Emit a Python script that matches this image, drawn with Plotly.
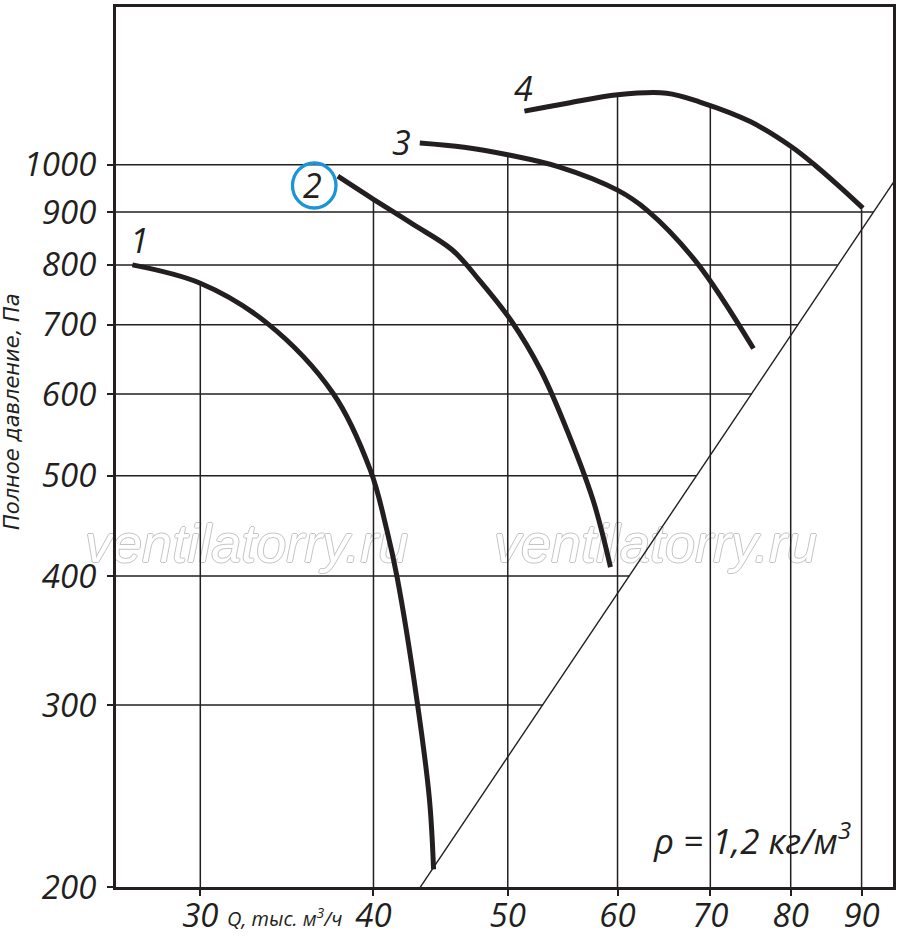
import plotly.graph_objects as go

# ---- data ----
Q1 = [26.8, 30.0, 33.5, 37.4, 39.8, 40.9, 41.6, 43.0, 43.9, 44.2]
P1 = [800, 768, 703, 601, 506, 443, 399, 303, 243, 208]
Q2 = [37.7, 40.0, 42.7, 45.6, 47.7, 50.3, 52.8, 54.8, 57.6, 59.3]
P2 = [975, 926, 876, 827, 773, 706, 633, 566, 474, 408]
Q3 = [43.2, 46.5, 50.1, 54.5, 60.0, 63.0, 68.4, 75.2]
P3 = [1050, 1040, 1022, 995, 945, 904, 805, 664]
Q4 = [51.4, 55.2, 60.0, 65.1, 68.8, 74.8, 80.1, 83.3, 86.8, 90.2]
P4 = [1127, 1147, 1169, 1173, 1150, 1101, 1041, 999, 952, 908]

# system (network) line
QS = [42.7, 95.5]
PS = [195, 974]

# tick values
x_ticks = [30, 40, 50, 60, 70, 80, 90]
x_tick_text = ["30", "40", "50", "60", "70", "80", "90"]
y_ticks = [200, 300, 400, 500, 600, 700, 800, 900, 1000]
y_tick_text = ["200", "300", "400", "500", "600", "700", "800", "900", "1000"]

# grid line extents
grid_q_top_p = [768, 926, 1020, 1166, 1136, 1035, 905]     # top end of vertical lines
grid_p = [300, 400, 500, 600, 700, 800, 900, 1000]
grid_p_end_q = [53.0, 61.2, 68.4, 75.0, 81.0, 86.5, 91.8, 83.3]  # right end of horizontal lines

X_RANGE = [1.4163, 1.9769]   # log10 of Q range
Y_RANGE = [2.30103, 3.1527]  # log10 of P range
Q_LEFT = 10 ** X_RANGE[0]
P_BOTTOM = 10 ** Y_RANGE[0]

INK = "#231f20"
FONT = "Open Sans"

fig = go.Figure()

# watermark (drawn first, under everything)
fig.add_trace(go.Scatter(
    x=[32.4, 63.9], y=[425, 425], mode="text", cliponaxis=False,
    text=["ventilatorry.ru", "ventilatorry.ru"],
    textfont=dict(family="Liberation Sans", size=54, style="italic", color="white",
                  shadow="1px 0 0 #c4c4c4, -1px 0 0 #c4c4c4, 0 1px 0 #c4c4c4, 0 -1px 0 #c4c4c4"),
    hoverinfo="skip", showlegend=False))

# vertical grid
vx, vy = [], []
for q, top in zip(x_ticks, grid_q_top_p):
    vx += [q, q, None]
    vy += [top, P_BOTTOM, None]
fig.add_trace(go.Scatter(x=vx, y=vy, mode="lines", line=dict(color=INK, width=1.5),
                         hoverinfo="skip", showlegend=False))

# horizontal grid
hx, hy = [], []
for p, qe in zip(grid_p, grid_p_end_q):
    hx += [Q_LEFT, qe, None]
    hy += [p, p, None]
fig.add_trace(go.Scatter(x=hx, y=hy, mode="lines", line=dict(color=INK, width=1.5),
                         hoverinfo="skip", showlegend=False))

# system line
fig.add_trace(go.Scatter(x=QS, y=PS, mode="lines", line=dict(color=INK, width=1.4),
                         hoverinfo="skip", showlegend=False))

# fan curves
for q, p in [(Q1, P1), (Q2, P2), (Q3, P3), (Q4, P4)]:
    fig.add_trace(go.Scatter(x=q, y=p, mode="lines",
                             line=dict(color=INK, width=5, shape="spline", smoothing=1.0),
                             hoverinfo="skip", showlegend=False))

tickfont = dict(family=FONT, size=33, style="italic", color=INK)

fig.update_xaxes(type="log", range=X_RANGE, tickvals=x_ticks, ticktext=x_tick_text,
                 ticks="outside", ticklen=6, tickwidth=1.5, tickcolor=INK,
                 showline=True, linewidth=3, linecolor=INK, mirror=True,
                 showgrid=False, zeroline=False, tickfont=tickfont, automargin=False,
                 ticklabelstandoff=-9)
fig.update_yaxes(type="log", range=Y_RANGE, tickvals=y_ticks, ticktext=y_tick_text,
                 ticks="outside", ticklen=6, tickwidth=1.5, tickcolor=INK,
                 showline=True, linewidth=3, linecolor=INK, mirror=True,
                 showgrid=False, zeroline=False, tickfont=tickfont, automargin=False,
                 ticklabelstandoff=4)

W, H = 900, 936
L, R, T, B = 116, 7, 7, 49
PW, PH = W - L - R, H - T - B


def px(xp):
    return (xp - L) / PW


def py(yp):
    return (H - B - yp) / PH


labfont = dict(family=FONT, size=34, style="italic", color=INK)
annotations = [
    dict(text="1", x=px(139), y=py(240), font=labfont),
    dict(text="2", x=px(312), y=py(185), font=labfont),
    dict(text="3", x=px(401), y=py(142), font=labfont),
    dict(text="4", x=px(523), y=py(88), font=labfont),
    dict(text="ρ = 1,2 кг/м<sup>3</sup>", x=px(752), y=py(838),
         font=dict(family=FONT, size=35, style="italic", color=INK)),
    dict(text="Q, тыс. м<sup>3</sup>/ч", x=px(284), y=py(917),
         font=dict(family=FONT, size=20, style="italic", color=INK)),
    dict(text="Полное давление, Па", x=px(12), y=py(412), textangle=-90,
         font=dict(family="DejaVu Sans", size=21, style="italic", color=INK)),
]
for a in annotations:
    a.update(xref="paper", yref="paper", showarrow=False, xanchor="center", yanchor="middle")

fig.update_layout(
    width=W, height=H,
    margin=dict(l=L, r=R, t=T, b=B),
    paper_bgcolor="white", plot_bgcolor="white",
    annotations=annotations,
    shapes=[dict(type="circle", xref="paper", yref="paper",
                 x0=px(292.5), x1=px(336), y0=py(208), y1=py(163),
                 line=dict(color="#1b95d8", width=3.3))],
    showlegend=False,
)

fig.write_html("out.html", config={"displayModeBar": False},
               post_script="document.body.style.margin='0';")
